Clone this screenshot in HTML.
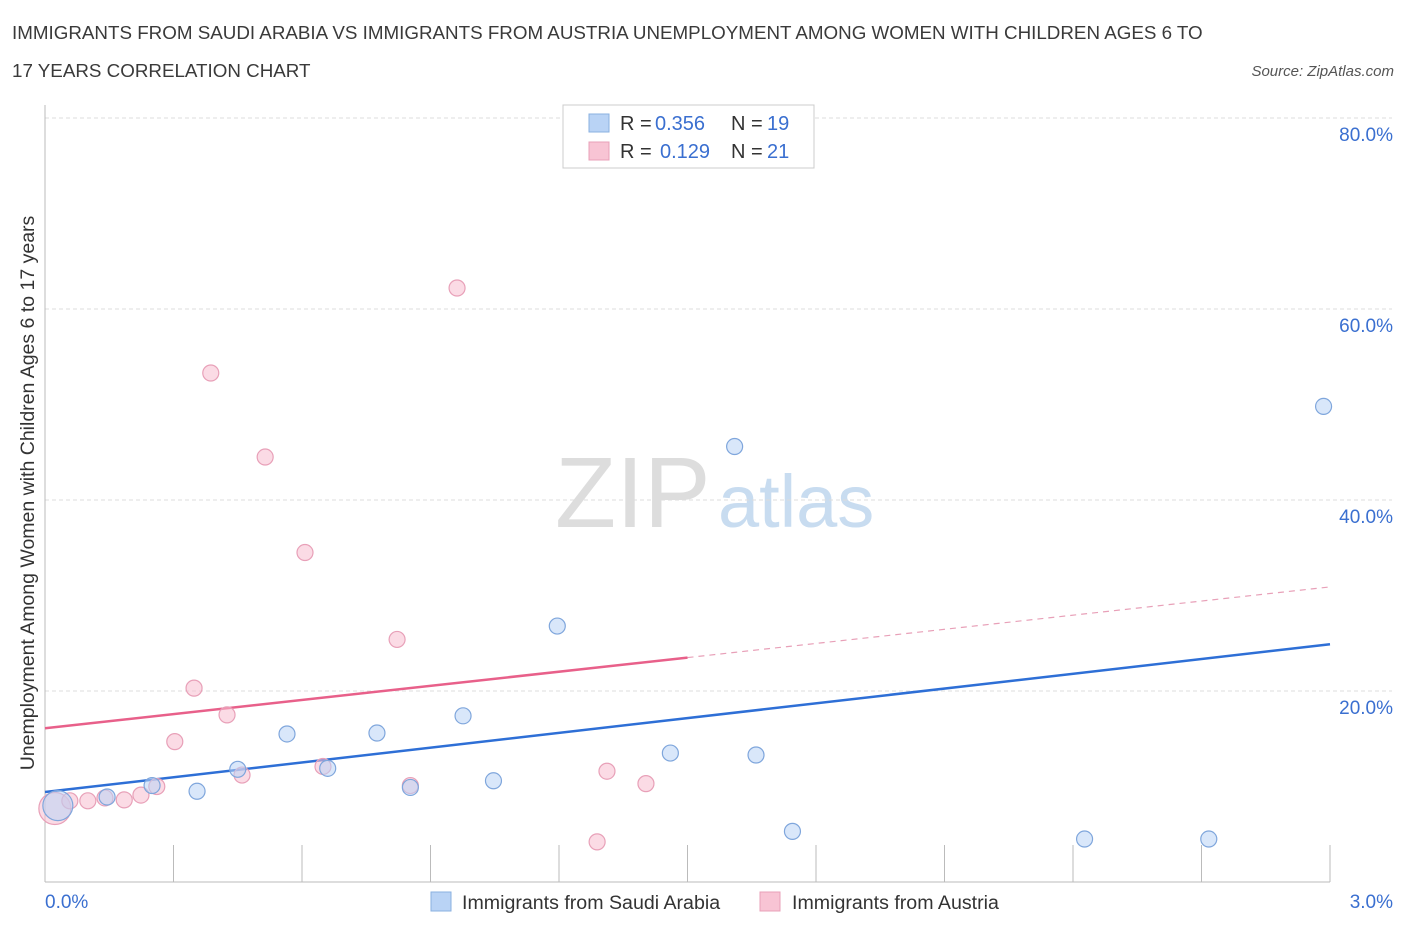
<!DOCTYPE html>
<html><head><meta charset="utf-8"><style>
body{margin:0;background:#fff;font-family:"Liberation Sans",sans-serif;}
svg text{font-family:"Liberation Sans",sans-serif;}
</style></head><body>
<svg id="chart" width="1406" height="930">
<text x="12" y="39" font-size="18.8" fill="#3a3a3a">IMMIGRANTS FROM SAUDI ARABIA VS IMMIGRANTS FROM AUSTRIA UNEMPLOYMENT AMONG WOMEN WITH CHILDREN AGES 6 TO</text>
<text x="12" y="77" font-size="18.8" fill="#3a3a3a">17 YEARS CORRELATION CHART</text>
<text x="1394" y="76" font-size="15" font-style="italic" fill="#555" text-anchor="end">Source: ZipAtlas.com</text>
<text x="34" y="493" font-size="19.5" fill="#333" text-anchor="middle" transform="rotate(-90 34 493)">Unemployment Among Women with Children Ages 6 to 17 years</text>
<text x="555" y="527" font-size="100" font-family="Liberation Serif" fill="#ddd">ZIP</text>
<text x="718" y="527" font-size="74" fill="#c8dcf0">atlas</text>
<g id="grid"></g><g id="lines"></g><g id="pts"></g>
<g>
<rect x="563" y="105" width="251" height="63" fill="#fff" stroke="#ccc"/>
<rect x="589" y="114" width="20" height="18" fill="#b9d3f5" stroke="#8ab0e0"/>
<text x="620" y="130" font-size="20" fill="#333">R =</text>
<text x="655" y="130" font-size="20" fill="#3a6fd0">0.356</text>
<text x="731" y="130" font-size="20" fill="#333">N =</text>
<text x="767" y="130" font-size="20" fill="#3a6fd0">19</text>
<rect x="589" y="142" width="20" height="18" fill="#f8c4d4" stroke="#e8a0b8"/>
<text x="620" y="158" font-size="20" fill="#333">R =</text>
<text x="660" y="158" font-size="20" fill="#3a6fd0">0.129</text>
<text x="731" y="158" font-size="20" fill="#333">N =</text>
<text x="767" y="158" font-size="20" fill="#3a6fd0">21</text>
</g>
<g>
<rect x="431" y="892" width="20" height="19" fill="#b9d3f5" stroke="#8ab0e0"/>
<text x="462" y="909" font-size="19.6" fill="#333">Immigrants from Saudi Arabia</text>
<rect x="760" y="892" width="20" height="19" fill="#f8c4d4" stroke="#e8a0b8"/>
<text x="792" y="909" font-size="19.6" fill="#333">Immigrants from Austria</text>
</g>
<text x="45" y="908" font-size="19" fill="#3a6fd0">0.0%</text>
<text x="1393" y="908" font-size="19" fill="#3a6fd0" text-anchor="end">3.0%</text>
</svg>
<script>
const yTicks=[20,40,60,80];
const xTicksCount=10;
const blueX=[0.03,0.145,0.25,0.355,0.45,0.565,0.66,0.775,0.853,0.976,1.047,1.196,1.46,1.61,1.66,1.745,2.427,2.717,2.985];
const blueY=[8.0,8.9,10.1,9.5,11.8,15.5,11.9,15.6,9.9,17.4,10.6,26.8,13.5,45.6,13.3,5.3,4.5,4.5,49.8];
const pinkX=[0.023,0.058,0.1,0.14,0.185,0.224,0.261,0.303,0.348,0.387,0.425,0.46,0.514,0.607,0.649,0.822,0.853,0.962,1.289,1.312,1.403];
const pinkY=[7.7,8.5,8.5,8.8,8.6,9.1,10.0,14.7,20.3,53.3,17.5,11.2,44.5,34.5,12.1,25.4,10.1,62.2,4.2,11.6,10.3];
const blueLine=[9.42,24.9];
const pinkLine=[16.1,30.9];
const ns="http://www.w3.org/2000/svg";
const X=v=>45+v/3*1285, Y=v=>882-v*9.55;
function mk(t,a,p){const e=document.createElementNS(ns,t);for(const k in a)e.setAttribute(k,a[k]);p.appendChild(e);return e;}
const g=document.getElementById('grid');
yTicks.forEach(t=>{
 const l=mk('line',{x1:45,x2:1392,y1:Y(t),y2:Y(t),stroke:'#ddd','stroke-dasharray':'4,3'},g);
 
 
 const tx=mk('text',{x:1393,y:Y(t)+23,'font-size':19,fill:'#3a6fd0','text-anchor':'end'},g);
 tx.textContent=t.toFixed(1)+'%';
 
 
});
mk('line',{x1:45,x2:45,y1:105,y2:882,stroke:'#bbb'},g);
mk('line',{x1:45,x2:1330,y1:882,y2:882,stroke:'#bbb'},g);
for(let i=1;i<=xTicksCount;i++){const t=mk('line',{x1:X(i*0.3),x2:X(i*0.3),y1:845,y2:882,stroke:'#bbb'},g);
 
 }
const L=document.getElementById('lines');
const bl=mk('line',{x1:X(0),y1:Y(blueLine[0]),x2:X(3),y2:Y(blueLine[1]),stroke:'#2e6fd6','stroke-width':2.5},L);


const pm=pinkLine[0]+(pinkLine[1]-pinkLine[0])*1.5/3;
const ps=mk('line',{x1:X(0),y1:Y(pinkLine[0]),x2:X(1.5),y2:Y(pm),stroke:'#e8608a','stroke-width':2.5},L);


const pd=mk('line',{x1:X(1.5),y1:Y(pm),x2:X(3),y2:Y(pinkLine[1]),stroke:'#e8a0b8','stroke-width':1.2,'stroke-dasharray':'6,5'},L);


const P=document.getElementById('pts');
pinkX.forEach((x,i)=>{const c=mk('circle',{cx:X(x),cy:Y(pinkY[i]),r:i==0?16:8,fill:'rgba(248,190,208,0.55)',stroke:'#e8a0b8','stroke-width':1.2},P);
 
 });
blueX.forEach((x,i)=>{const c=mk('circle',{cx:X(x),cy:Y(blueY[i]),r:i==0?15:8,fill:'rgba(185,211,245,0.55)',stroke:'#7fa6dc','stroke-width':1.2},P);
 
 });
</script>
</body></html>
